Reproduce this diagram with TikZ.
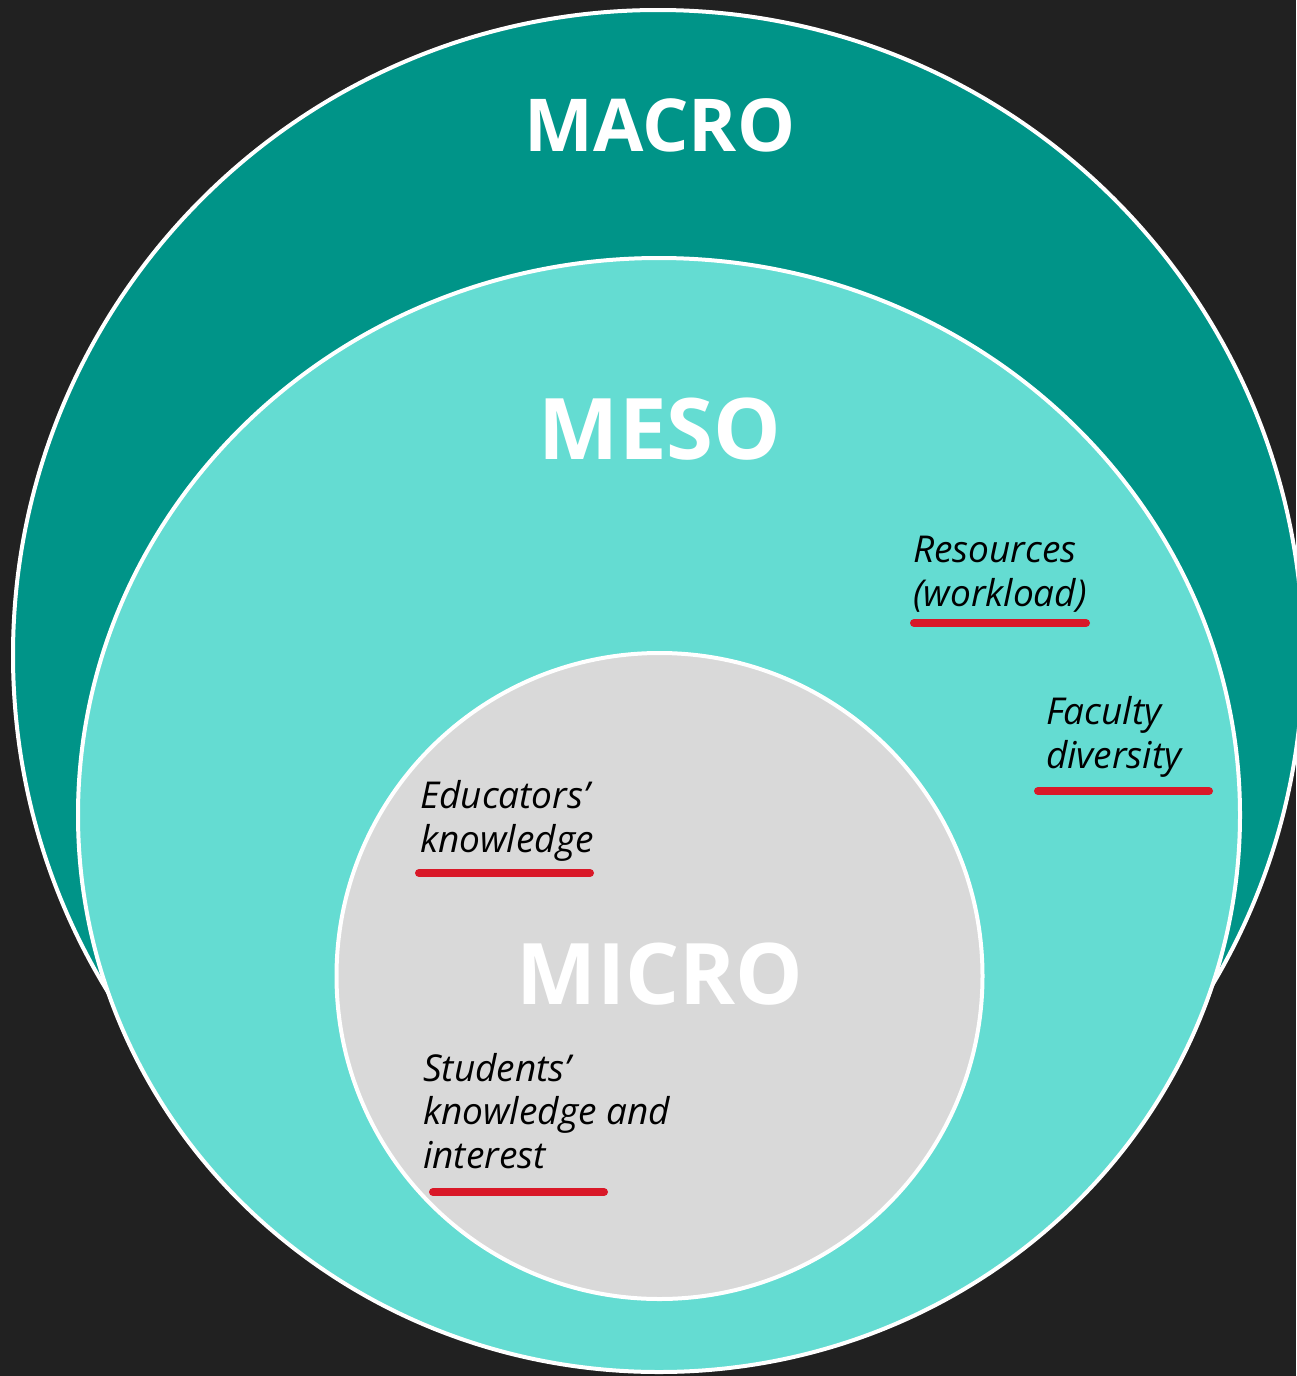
\documentclass[tikz,border=0pt]{standalone}
\usepackage{fontspec}
\setmainfont{Open Sans}
\definecolor{bgdark}{HTML}{212121}
\definecolor{macroteal}{HTML}{009488}
\definecolor{mesoteal}{HTML}{64DCD2}
\definecolor{microgrey}{HTML}{D9D9D9}
\definecolor{ulred}{HTML}{D91828}
\tikzset{
  ring/.style={draw=white, line width=4pt},
  title/.style={text=white, font=\bfseries\fontsize{#1}{#1}\selectfont, inner sep=0pt, anchor=base},
  label/.style={text=black, font=\itshape\fontsize{37}{43.3}\selectfont, inner sep=0pt, anchor=base west, align=left},
  redline/.style={draw=ulred, line width=8pt, line cap=round}
}
\begin{document}
\begin{tikzpicture}[x=1pt,y=-1pt]
\fill[bgdark] (0,0) rectangle (1296,1376);
\useasboundingbox (0,0) rectangle (1296,1376);
% circles
\draw[ring, fill=macroteal] (658,655) circle [radius=645pt];
\draw[ring, fill=mesoteal] (659,815) ellipse [x radius=581pt, y radius=557pt];
\draw[ring, fill=microgrey] (659.5,976) circle [radius=323pt];
% titles
\node[title=73] (macro) at (660,151) {MACRO};
\node[title=85] (meso) at (660,459) {MESO};
\node[title=85] (micro) at (660,1004) {MICRO};
% labels (anchored at the baseline of the last line)
\node[label] (res) at (913,606) {Resources\\(workload)};
\node[label] (fac) at (1046,768) {Faculty\\diversity};
\node[label] (edu) at (420,852) {Educators’\\knowledge};
\node[label] (stu) at (423,1168) {Students’\\knowledge and\\interest};
% underlines
\coordinate (resA) at (914,623); \coordinate (resB) at (1086,623);
\coordinate (facA) at (1038,791); \coordinate (facB) at (1209,791);
\coordinate (eduA) at (419,873); \coordinate (eduB) at (590,873);
\coordinate (stuA) at (433,1192); \coordinate (stuB) at (604,1192);
\draw[redline] (resA) -- (resB);
\draw[redline] (facA) -- (facB);
\draw[redline] (eduA) -- (eduB);
\draw[redline] (stuA) -- (stuB);
\end{tikzpicture}
\end{document}
